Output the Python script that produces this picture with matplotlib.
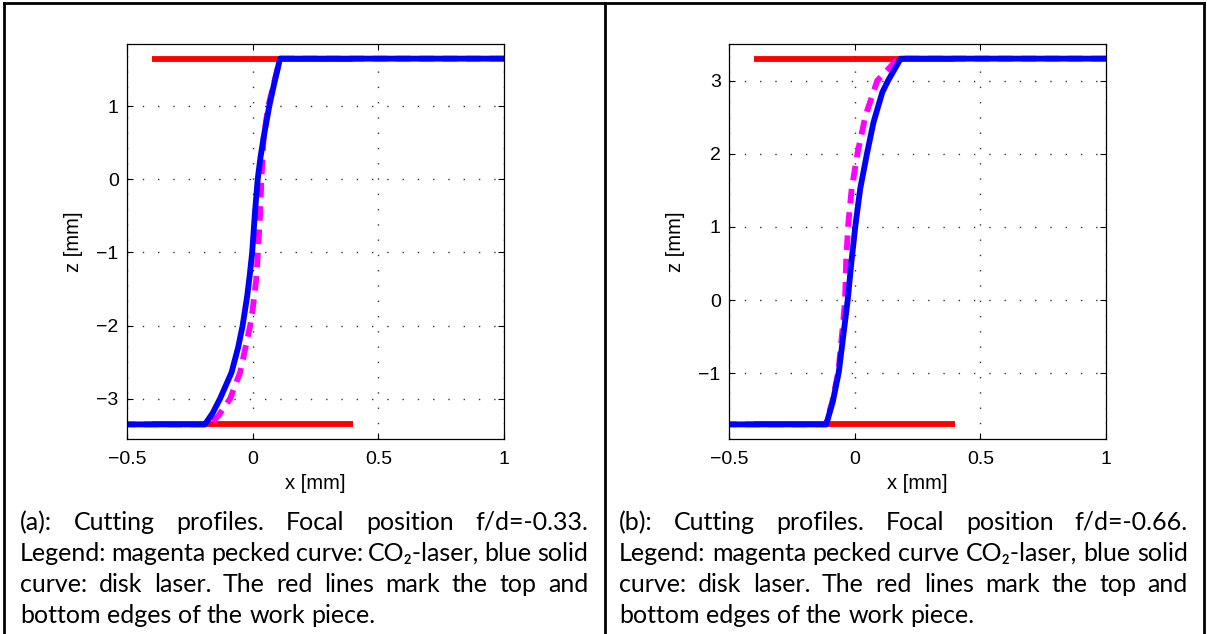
import matplotlib
matplotlib.use("Agg")
import matplotlib.pyplot as plt
from matplotlib.lines import Line2D

W, H = 1207, 634

# cutting profiles, f/d = -0.33 (panel a)
z_top_a, z_bot_a = 1.65, -3.35
disk_z_a = [1.65, 1.65, 1.3, 1.0, 0.64, 0.3, 0.0, -0.46, -1.0, -1.29, -1.6, -2.0, -2.3, -2.64, -3.0, -3.2, -3.35, -3.35]
disk_x_a = [1.0, 0.109, 0.085, 0.066, 0.047, 0.031, 0.02, 0.009, -0.002, -0.011, -0.022, -0.04, -0.058, -0.084, -0.13, -0.16, -0.19, -0.5]
co2_z_a = [1.65, 1.65, 1.0, 0.55, 0.0, -0.5, -1.0, -1.37, -1.78, -2.0, -2.34, -2.64, -3.0, -3.24, -3.35, -3.35]
co2_x_a = [1.0, 0.109, 0.062, 0.043, 0.035, 0.029, 0.021, 0.014, 0.0, -0.01, -0.031, -0.05, -0.09, -0.138, -0.17, -0.5]

# cutting profiles, f/d = -0.66 (panel b)
z_top_b, z_bot_b = 3.3, -1.7
disk_z_b = [3.3, 3.3, 3.0, 2.84, 2.43, 2.02, 1.52, 1.02, 0.52, 0.02, -0.48, -0.98, -1.39, -1.7, -1.7]
disk_x_b = [1.0, 0.183, 0.133, 0.11, 0.075, 0.05, 0.022, 0.003, -0.013, -0.027, -0.045, -0.063, -0.087, -0.113, -0.5]
co2_z_b = [3.3, 3.3, 3.2, 3.0, 2.52, 2.02, 1.52, 1.02, 0.52, 0.02, -0.35, -0.98, -1.39, -1.7, -1.7]
co2_x_b = [1.0, 0.17, 0.145, 0.09, 0.043, 0.012, -0.012, -0.026, -0.034, -0.038, -0.047, -0.065, -0.089, -0.115, -0.5]

edge_x = [-0.4, 0.4]

captions = [
    ["(a): Cutting profiles. Focal position f/d=-0.33.",
     "Legend: magenta pecked curve: CO\u2082-laser, blue solid",
     "curve: disk laser. The red lines mark the top and",
     "bottom edges of the work piece."],
    ["(b): Cutting profiles. Focal position f/d=-0.66.",
     "Legend: magenta pecked curve CO\u2082-laser, blue solid",
     "curve: disk laser. The red lines mark the top and",
     "bottom edges of the work piece."],
]

fig = plt.figure(figsize=(W / 100, H / 100), dpi=100)
plt.rcParams['font.family'] = ['Liberation Sans', 'DejaVu Sans']


def px_axes(l, t, r, b):
    return fig.add_axes([l / W, 1 - b / H, (r - l) / W, (b - t) / H])


def draw_panel(ax, z_top, z_bot, dx, dz, cx, cz, yticks):
    ax.plot(edge_x, [z_top, z_top], color='#ff0000', lw=4.2, solid_capstyle='butt')
    ax.plot(edge_x, [z_bot, z_bot], color='#ff0000', lw=4.2, solid_capstyle='butt')
    ax.plot(cx, cz, color='#ff00ff', lw=4.2, dashes=(2.5, 1.5))
    ax.plot(dx, dz, color='#0000ff', lw=4.2, solid_joinstyle='round')
    ax.set_xlim(-0.5, 1)
    ax.set_ylim(z_bot - 0.2, z_top + 0.2)
    ax.set_xticks([-0.5, 0, 0.5, 1])
    ax.set_xticklabels(['\u22120.5', '0', '0.5', '1'])
    ax.set_yticks(yticks)
    ax.set_yticklabels([('\u2212%d' % -v) if v < 0 else '%d' % v for v in yticks])
    ax.tick_params(direction='in', length=4, width=0.8, top=True, right=True,
                   labelsize=14)
    ax.tick_params(axis='x', pad=9)
    ax.tick_params(axis='y', pad=6)
    ax.grid(True, color='#333333', linestyle=(0, (1, 10)), linewidth=1)
    for s in ax.spines.values():
        s.set_linewidth(0.9)
    ax.set_xlabel('x [mm]', fontsize=14.5, labelpad=4)
    ax.set_ylabel('z [mm]', fontsize=14.5, labelpad=10)


ax1 = px_axes(127, 44, 504, 439)
draw_panel(ax1, z_top_a, z_bot_a, disk_x_a, disk_z_a, co2_x_a, co2_z_a, [-3, -2, -1, 0, 1])
ax2 = px_axes(729, 44, 1106, 439)
draw_panel(ax2, z_top_b, z_bot_b, disk_x_b, disk_z_b, co2_x_b, co2_z_b, [-1, 0, 1, 2, 3])

# table borders
for xs, ys in [([3.5, 1203.5], [2.5, 2.5]), ([3.5, 3.5], [2.5, 634]),
               ([605, 605], [2.5, 634]), ([1203.5, 1203.5], [2.5, 634])]:
    fig.add_artist(Line2D([x / W for x in xs], [1 - y / H for y in ys],
                          transform=fig.transFigure, color='black', lw=2))

# justified captions
renderer = fig.canvas.get_renderer()
cap_font = dict(fontsize=18, family=['Lato', 'DejaVu Sans'], color='black')


def justify_line(line, x0, x1, y, full=True):
    words = line.split(' ')
    ts = [fig.text(0, 1 - y / H, w, va='baseline', ha='left', **cap_font) for w in words]
    widths = [t.get_window_extent(renderer).width for t in ts]
    if full and len(words) > 1:
        gap = (x1 - x0 - sum(widths)) / (len(words) - 1)
    else:
        sp = fig.text(0, 0, 'a a', **cap_font)
        sp2 = fig.text(0, 0, 'aa', **cap_font)
        gap = sp.get_window_extent(renderer).width - sp2.get_window_extent(renderer).width
        sp.remove()
        sp2.remove()
    x = x0
    for t, w in zip(ts, widths):
        t.set_x(x / W)
        x += w + gap


baselines = [530, 561, 592, 623]
for lines, (x0, x1) in zip(captions, [(20, 588), (619, 1188)]):
    for i, (line, yb) in enumerate(zip(lines, baselines)):
        justify_line(line, x0, x1, yb, full=(i < 3))

fig.savefig('out.png', dpi=100)
